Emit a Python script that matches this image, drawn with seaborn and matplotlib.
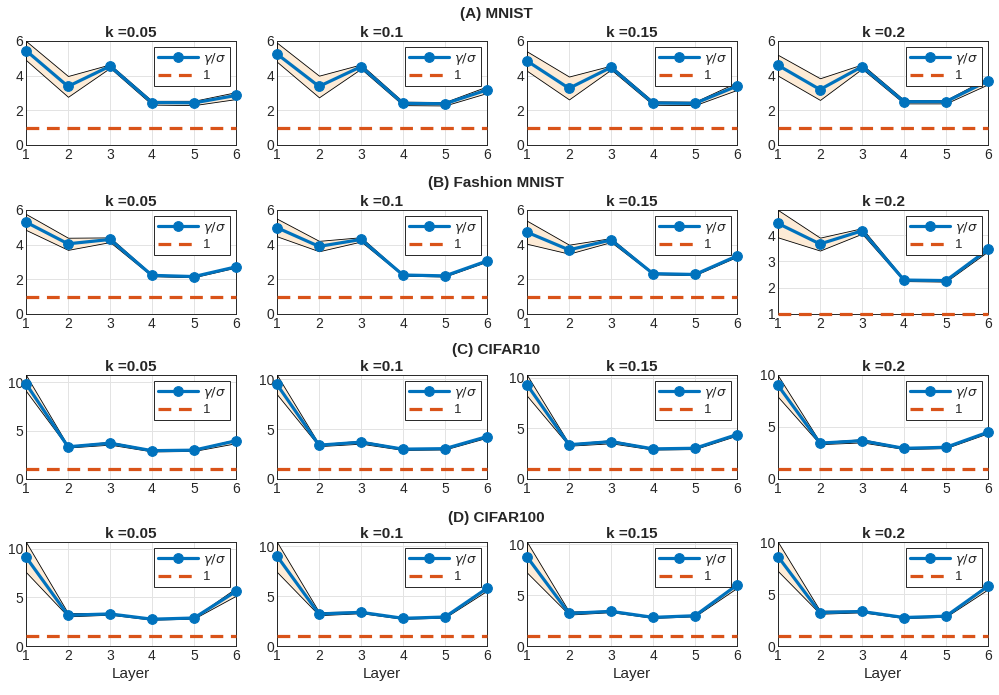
import numpy as np
import matplotlib
matplotlib.use("Agg")
import matplotlib.pyplot as plt
import seaborn as sns

# layers on the x axis and sparsity levels k
layers = [1, 2, 3, 4, 5, 6]
k_values = ["0.05", "0.1", "0.15", "0.2"]
ref_level = 1

# (A) MNIST: mean gamma/sigma per k, with lower / upper band
mnist_mean = [[5.45, 3.38, 4.55, 2.45, 2.43, 2.86],
              [5.25, 3.38, 4.52, 2.40, 2.38, 3.18],
              [4.85, 3.27, 4.48, 2.42, 2.40, 3.40],
              [4.60, 3.20, 4.52, 2.50, 2.50, 3.70]]
mnist_lo = [[4.90, 2.78, 4.45, 2.33, 2.30, 2.65],
            [4.80, 2.75, 4.40, 2.30, 2.28, 3.00],
            [4.28, 2.63, 4.35, 2.32, 2.30, 3.18],
            [4.00, 2.60, 4.40, 2.40, 2.40, 3.50]]
mnist_hi = [[6.00, 3.98, 4.65, 2.55, 2.55, 3.05],
            [5.90, 4.00, 4.65, 2.50, 2.48, 3.38],
            [5.40, 3.95, 4.58, 2.52, 2.50, 3.62],
            [5.20, 3.85, 4.65, 2.60, 2.60, 3.88]]

# (B) Fashion MNIST
fashion_mean = [[5.30, 4.05, 4.30, 2.23, 2.16, 2.72],
                [4.98, 3.90, 4.30, 2.25, 2.20, 3.06],
                [4.72, 3.70, 4.27, 2.33, 2.28, 3.35],
                [4.44, 3.66, 4.16, 2.29, 2.27, 3.45]]
fashion_lo = [[4.85, 3.70, 4.15, 2.18, 2.12, 2.68],
              [4.48, 3.62, 4.18, 2.21, 2.16, 3.02],
              [4.05, 3.48, 4.15, 2.29, 2.24, 3.30],
              [3.91, 3.41, 4.05, 2.25, 2.23, 3.38]]
fashion_hi = [[5.77, 4.40, 4.42, 2.28, 2.21, 2.78],
              [5.50, 4.22, 4.43, 2.29, 2.24, 3.11],
              [5.38, 4.00, 4.38, 2.37, 2.32, 3.42],
              [4.95, 3.90, 4.26, 2.33, 2.31, 3.50]]

# (C) CIFAR10
cifar10_mean = [[9.85, 3.33, 3.70, 2.93, 2.98, 3.95],
                [9.50, 3.40, 3.70, 3.00, 3.05, 4.26],
                [9.30, 3.38, 3.68, 2.97, 3.03, 4.38],
                [9.00, 3.45, 3.68, 2.95, 3.05, 4.50]]
cifar10_lo = [[9.10, 3.25, 3.55, 2.85, 2.90, 3.70],
              [8.50, 3.30, 3.55, 2.92, 2.97, 4.15],
              [8.20, 3.28, 3.52, 2.90, 2.95, 4.28],
              [7.90, 3.35, 3.52, 2.88, 2.97, 4.40]]
cifar10_hi = [[10.75, 3.42, 3.85, 3.00, 3.06, 4.10],
              [10.45, 3.50, 3.85, 3.08, 3.13, 4.35],
              [10.25, 3.48, 3.83, 3.04, 3.11, 4.46],
              [9.95, 3.55, 3.83, 3.03, 3.13, 4.58]]

# (D) CIFAR100
cifar100_mean = [[9.15, 3.17, 3.30, 2.76, 2.88, 5.62],
                 [9.00, 3.20, 3.37, 2.77, 2.90, 5.77],
                 [8.75, 3.20, 3.40, 2.81, 2.97, 5.98],
                 [8.60, 3.22, 3.32, 2.74, 2.87, 5.75]]
cifar100_lo = [[7.60, 3.05, 3.22, 2.70, 2.82, 5.17],
               [7.40, 3.08, 3.28, 2.71, 2.84, 5.53],
               [7.20, 3.08, 3.32, 2.75, 2.91, 5.70],
               [7.20, 3.10, 3.24, 2.68, 2.81, 5.45]]
cifar100_hi = [[10.70, 3.38, 3.40, 2.83, 2.95, 5.97],
               [10.40, 3.40, 3.45, 2.84, 2.97, 5.95],
               [10.20, 3.38, 3.48, 2.88, 3.04, 6.15],
               [10.00, 3.40, 3.40, 2.81, 2.94, 5.95]]

section_titles = ["(A) MNIST", "(B) Fashion MNIST", "(C) CIFAR10", "(D) CIFAR100"]

sns.set_theme(style="whitegrid")
plt.rcParams['font.family'] = ['Liberation Sans', 'DejaVu Sans']
plt.rcParams['axes.edgecolor'] = '#262626'
plt.rcParams['axes.linewidth'] = 0.7
plt.rcParams['grid.color'] = '#e3e3e3'
plt.rcParams['grid.linewidth'] = 0.7

blue = '#0072BD'
orange = '#D95319'
band = '#FDEBD6'

W, H = 999, 695
fig = plt.figure(figsize=(W / 100, H / 100), dpi=100)

col_left = [26, 277, 527, 778]
ax_w = 210
row_top = [41, 210, 375, 542]
ax_h = 104
section_y = [14, 183, 350, 518]

rows = [(mnist_mean, mnist_lo, mnist_hi),
        (fashion_mean, fashion_lo, fashion_hi),
        (cifar10_mean, cifar10_lo, cifar10_hi),
        (cifar100_mean, cifar100_lo, cifar100_hi)]

for r, (means, lows, highs) in enumerate(rows):
    fig.text(496 / W, 1 - section_y[r] / H, section_titles[r], ha='center', va='center',
             fontsize=11, fontweight='bold')
    for c in range(4):
        ax = fig.add_axes([col_left[c] / W, 1 - (row_top[r] + ax_h) / H, ax_w / W, ax_h / H])
        ax.fill_between(layers, lows[c], highs[c], facecolor=band, edgecolor='black',
                        linewidth=0.6, zorder=2)
        sns.lineplot(x=layers, y=means[c], ax=ax, color=blue, marker='o', markersize=7,
                     markeredgecolor=blue, linewidth=2.3, label=r'$\gamma/\sigma$', zorder=3)
        sns.lineplot(x=layers, y=[ref_level] * len(layers), ax=ax, color=orange,
                     linewidth=2.3, dashes=False, label='1', zorder=3)
        ax.lines[-1].set_dashes((4, 2.4))
        for ln in ax.lines:
            ln.set_clip_on(False)
        ax.set_xlim(1, 6)
        ax.set_xticks(layers)
        if r < 2:
            if r == 1 and c == 3:
                ax.set_ylim(1, max(highs[c]))
                ax.set_yticks([1, 2, 3, 4])
            else:
                ax.set_ylim(0, 6)
                ax.set_yticks([0, 2, 4, 6])
        else:
            ax.set_ylim(0, max(highs[c]))
            ax.set_yticks([0, 5, 10])
        ax.tick_params(labelsize=10, pad=2, length=0, colors='#262626')
        ax.set_title("k =" + k_values[c], fontsize=11, fontweight='bold', pad=3)
        if r == 3:
            ax.set_xlabel('Layer', fontsize=11, labelpad=3)
        ax.grid(True)
        ax.set_axisbelow(True)
        leg = ax.legend(loc='upper right', fontsize=9.5, frameon=True, fancybox=False,
                        edgecolor='#262626', framealpha=1, handlelength=3.0,
                        handletextpad=0.4, borderpad=0.3, labelspacing=0.25,
                        borderaxespad=0.45)
        leg.get_frame().set_linewidth(0.7)
        leg.set_zorder(5)
        for s in ax.spines.values():
            s.set_visible(True)
            s.set_zorder(1.5)

fig.savefig('out.png', dpi=100)
